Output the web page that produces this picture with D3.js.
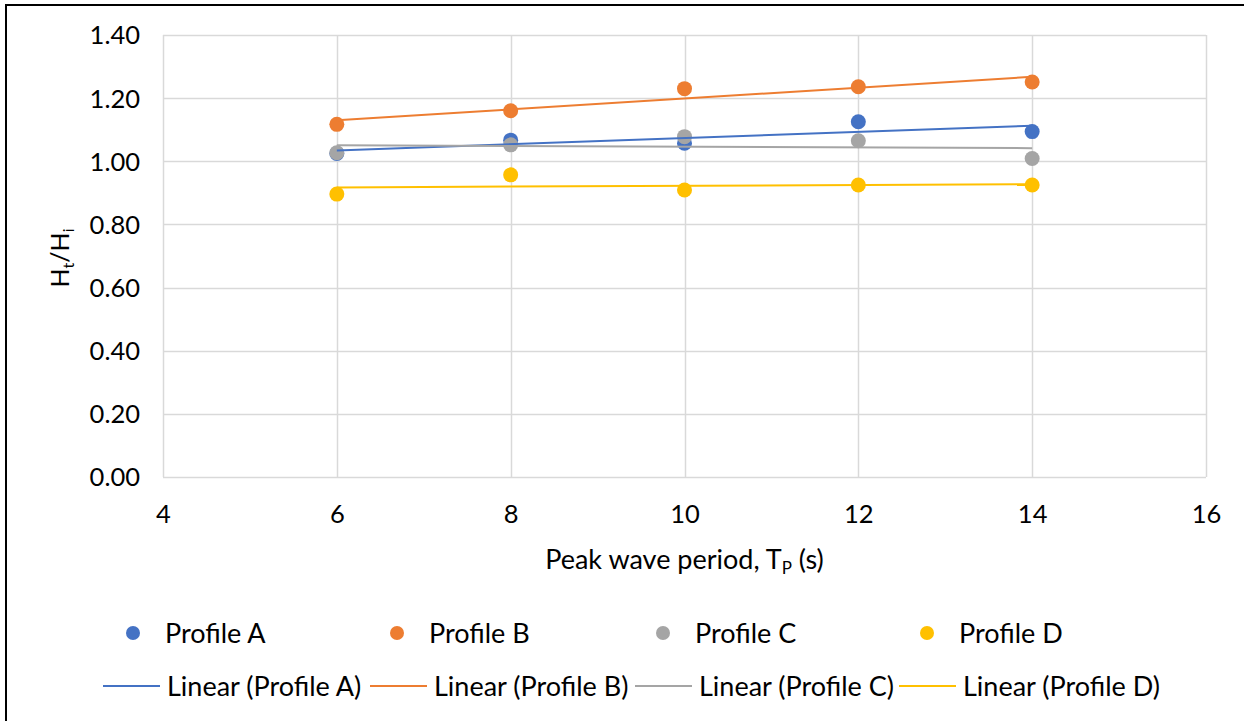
<!DOCTYPE html>
<html>
<head>
<meta charset="utf-8">
<script src="https://cdn.jsdelivr.net/npm/d3@7"></script>
<style>
  html, body { margin: 0; padding: 0; background: #fff; }
  svg { display: block; font-family: Lato, "Open Sans", sans-serif; }
</style>
</head>
<body>
<svg id="chart" width="1244" height="721"></svg>
<script>
// Wave period (s) at which each profile was tested
const periods = [6, 8, 10, 12, 14];

// Transmission ratio Ht/Hi for each profile
const profileA = [1.025, 1.067, 1.057, 1.125, 1.094];
const profileB = [1.117, 1.160, 1.230, 1.236, 1.251];
const profileC = [1.027, 1.052, 1.078, 1.065, 1.009];
const profileD = [0.896, 0.957, 0.909, 0.925, 0.925];

const seriesNames = ["Profile A", "Profile B", "Profile C", "Profile D"];
const seriesColors = ["#4472c4", "#ed7d31", "#a5a5a5", "#ffc000"];

const xTicks = [4, 6, 8, 10, 12, 14, 16];
const yTicks = [0, 0.2, 0.4, 0.6, 0.8, 1.0, 1.2, 1.4];

const series = [profileA, profileB, profileC, profileD].map((vals, i) => ({
  name: seriesNames[i],
  color: seriesColors[i],
  points: periods.map((p, j) => ({ x: p, y: vals[j] }))
}));

// Ordinary least-squares line through each series
function linearFit(pts) {
  const mx = d3.mean(pts, d => d.x), my = d3.mean(pts, d => d.y);
  const sxy = d3.sum(pts, d => (d.x - mx) * (d.y - my));
  const sxx = d3.sum(pts, d => (d.x - mx) ** 2);
  const b = sxy / sxx, a = my - b * mx;
  const x0 = d3.min(pts, d => d.x), x1 = d3.max(pts, d => d.x);
  return [{ x: x0, y: a + b * x0 }, { x: x1, y: a + b * x1 }];
}

const svg = d3.select("#chart");
const plot = { left: 163, right: 1206, top: 35, bottom: 477 };

const x = d3.scaleLinear().domain([4, 16]).range([plot.left, plot.right]);
const y = d3.scaleLinear().domain([0, 1.4]).range([plot.bottom, plot.top]);

// Outer frame (top and left edges)
svg.append("line").attr("x1", 6).attr("x2", 1244).attr("y1", 5).attr("y2", 5)
  .attr("stroke", "#000").attr("stroke-width", 2);
svg.append("line").attr("x1", 6).attr("x2", 6).attr("y1", 4).attr("y2", 721)
  .attr("stroke", "#000").attr("stroke-width", 2);

// Gridlines
const grid = svg.append("g");
grid.selectAll(".hg").data(yTicks).join("line")
  .attr("x1", plot.left).attr("x2", plot.right)
  .attr("y1", d => Math.round(y(d)) + 0.5).attr("y2", d => Math.round(y(d)) + 0.5)
  .attr("stroke", "#d9d9d9").attr("stroke-width", 1.5);
grid.selectAll(".vg").data(xTicks).join("line")
  .attr("y1", plot.top).attr("y2", plot.bottom)
  .attr("x1", d => Math.round(x(d)) + 0.5).attr("x2", d => Math.round(x(d)) + 0.5)
  .attr("stroke", "#d9d9d9").attr("stroke-width", 1.5);

// Axes (labels only; lines come from the grid)
const xAxis = svg.append("g")
  .attr("transform", `translate(0,${plot.bottom})`)
  .call(d3.axisBottom(x).tickValues(xTicks).tickSize(0).tickPadding(28).tickFormat(d3.format("d")));
const yAxis = svg.append("g")
  .attr("transform", `translate(${plot.left},0)`)
  .call(d3.axisLeft(y).tickValues(yTicks).tickSize(0).tickPadding(23).tickFormat(d3.format(".2f")));
[xAxis, yAxis].forEach(ax => {
  ax.select(".domain").remove();
  ax.selectAll("text").attr("font-family", "Lato, sans-serif").attr("font-size", 25.5).attr("fill", "#000");
});
yAxis.selectAll("text").attr("dy", "0.35em");

// Axis titles
const xt = svg.append("text")
  .attr("x", (plot.left + plot.right) / 2).attr("y", 569)
  .attr("text-anchor", "middle").attr("font-size", 27).attr("fill", "#000");
xt.append("tspan").text("Peak wave period, T");
xt.append("tspan").attr("font-size", 17).attr("dy", 5).text("P");
xt.append("tspan").attr("dy", -5).text(" (s)");

const yt = svg.append("text")
  .attr("transform", `translate(69,258) rotate(-90)`)
  .attr("text-anchor", "middle").attr("font-size", 25).attr("fill", "#000");
yt.append("tspan").text("H");
yt.append("tspan").attr("font-size", 16).attr("dy", 5).text("t");
yt.append("tspan").attr("dy", -5).text("/H");
yt.append("tspan").attr("font-size", 16).attr("dy", 5).text("i");

// Scatter markers
const marks = svg.append("g");
series.forEach(s => {
  marks.append("g").selectAll("circle").data(s.points).join("circle")
    .attr("cx", d => x(d.x)).attr("cy", d => y(d.y)).attr("r", 7.5)
    .attr("fill", s.color);
});

// Linear trendlines
const line = d3.line().x(d => x(d.x)).y(d => y(d.y));
series.forEach(s => {
  svg.append("path").datum(linearFit(s.points))
    .attr("d", line).attr("fill", "none")
    .attr("stroke", s.color).attr("stroke-width", 2);
});

// Legend
const legend = svg.append("g").attr("font-size", 27).attr("fill", "#000");
const markerCols = [133, 397, 663, 927];
const lineCols = [103, 370, 635, 899];
series.forEach((s, i) => {
  legend.append("circle").attr("cx", markerCols[i]).attr("cy", 633).attr("r", 7).attr("fill", s.color);
  legend.append("text").attr("x", markerCols[i] + 32).attr("y", 634).attr("dy", "0.35em").text(s.name);
  legend.append("line").attr("x1", lineCols[i]).attr("x2", lineCols[i] + 57)
    .attr("y1", 686).attr("y2", 686).attr("stroke", s.color).attr("stroke-width", 2);
  legend.append("text").attr("x", lineCols[i] + 64).attr("y", 687).attr("dy", "0.35em")
    .text(`Linear (${s.name})`);
});
</script>
</body>
</html>
